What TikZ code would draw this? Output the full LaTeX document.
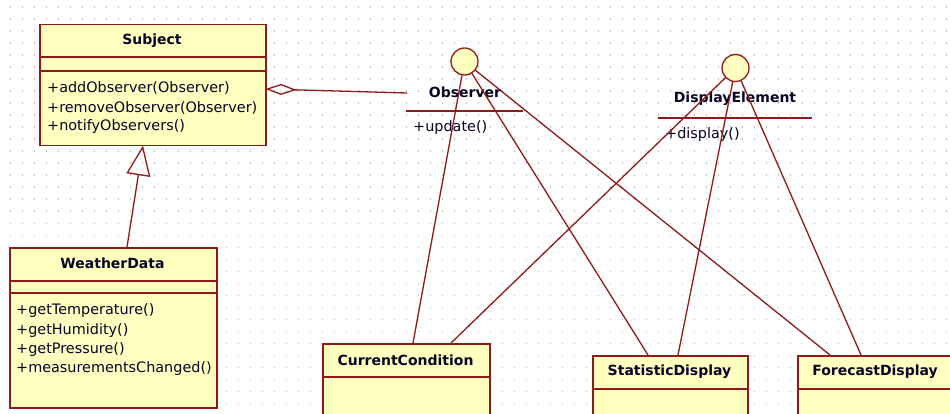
\documentclass[tikz,border=0pt]{standalone}
\usepackage{fontspec}
\setmainfont{DejaVu Sans}
\usetikzlibrary{arrows.meta,calc}
\definecolor{umlline}{RGB}{145,25,25}
\definecolor{umlfill}{RGB}{255,255,192}
\definecolor{griddot}{RGB}{192,192,192}
\definecolor{umltext}{RGB}{5,5,35}
\begin{document}
\begin{tikzpicture}[x=1pt,y=-1pt,
  classbox/.style={draw=umlline, fill=umlfill, line width=1.5pt, anchor=north west, inner sep=0pt},
  sep/.style={draw=umlline, line width=1.5pt},
  title/.style={font=\bfseries\fontsize{14}{16}\selectfont, text=umltext, inner sep=0pt},
  member/.style={font=\fontsize{14.4}{16}\selectfont, text=umltext, inner sep=0pt, anchor=west},
  conn/.style={draw=umlline, line width=1.3pt},
  iface/.style={circle, draw=umlline, fill=umlfill, line width=1.3pt, minimum size=27pt, inner sep=0pt}]
\useasboundingbox (0,0) rectangle (950,414);
\clip (0,0) rectangle (950,414);
\fill[white] (0,0) rectangle (950,414);
\foreach \i in {0,...,78} {\foreach \j in {0,...,34} {\fill[griddot] (9.5+12*\i, 6.5+12*\j) rectangle ++(1.1,1.1);}}

% Subject
\node[classbox, minimum width=226pt, minimum height=121pt] (subject) at (39,24) {};
\draw[sep] (39,57) -- (265,57);
\draw[sep] (39,71) -- (265,71);
\node[title] (subjectname) at (152,41) {Subject};
\node[member] (sm1) at (47,88) {+addObserver(Observer)};
\node[member] (sm2) at (47,107.5) {+removeObserver(Observer)};
\node[member] (sm3) at (47,127) {+notifyObservers()};

% WeatherData
\node[classbox, minimum width=207pt, minimum height=160pt] (wd) at (9,247) {};
\draw[sep] (9,281) -- (216,281);
\draw[sep] (9,293) -- (216,293);
\node[title] (wdname) at (112.5,263) {WeatherData};
\node[member] (wm1) at (16,311) {+getTemperature()};
\node[member] (wm2) at (16,330.3) {+getHumidity()};
\node[member] (wm3) at (16,349.6) {+getPressure()};
\node[member] (wm4) at (16,369) {+measurementsChanged()};

% Observer interface
\node[iface] (obs) at (464.5,61.5) {};
\node[title] (obsname) at (465,92) {Observer};
\draw[conn] (406,111) -- (523,111);
\node[member] (obsop) at (413,128) {+update()};

% DisplayElement interface
\node[iface] (de) at (735.5,68) {};
\node[title] (dename) at (735,99) {DisplayElement};
\draw[conn] (658,118) -- (812,118);
\node[member] (deop) at (665,135) {+display()};

% bottom classes
\node[classbox, minimum width=167pt, minimum height=90pt] (cc) at (322,343) {};
\draw[sep] (322,377) -- (489,377);
\node[title] (ccname) at (405.5,360) {CurrentCondition};

\node[classbox, minimum width=155pt, minimum height=80pt] (sd) at (592,355) {};
\draw[sep] (592,389) -- (747,389);
\node[title] (sdname) at (669.5,372) {StatisticDisplay};

\node[classbox, minimum width=200pt, minimum height=80pt] (fd) at (797,355) {};
\draw[sep] (797,389) -- (997,389);
\node[title] (fdname) at (875,372) {ForecastDisplay};

% generalization
\coordinate (wdtop) at (127,247);
\coordinate (subbot) at (143,145.5);
\draw[conn, -{Triangle[open, length=30pt, width=24pt]}] (wdtop) -- (subbot);

% aggregation
\coordinate (subagg) at (265.5,89);
\coordinate (obsagg) at (407,93);
\draw[conn, {Diamond[open, length=31pt, width=11pt]}-] (subagg) -- (obsagg);

% realizations
\draw[conn] (obs) -- ($(cc.north west)+(91,0)$);
\draw[conn] (obs) -- ($(sd.north west)+(56,0)$);
\draw[conn] (obs) -- ($(fd.north west)+(33,0)$);
\draw[conn] (de) -- ($(cc.north west)+(129,0)$);
\draw[conn] (de) -- ($(sd.north west)+(86,0)$);
\draw[conn] (de) -- ($(fd.north west)+(64,0)$);
\end{tikzpicture}
\end{document}
